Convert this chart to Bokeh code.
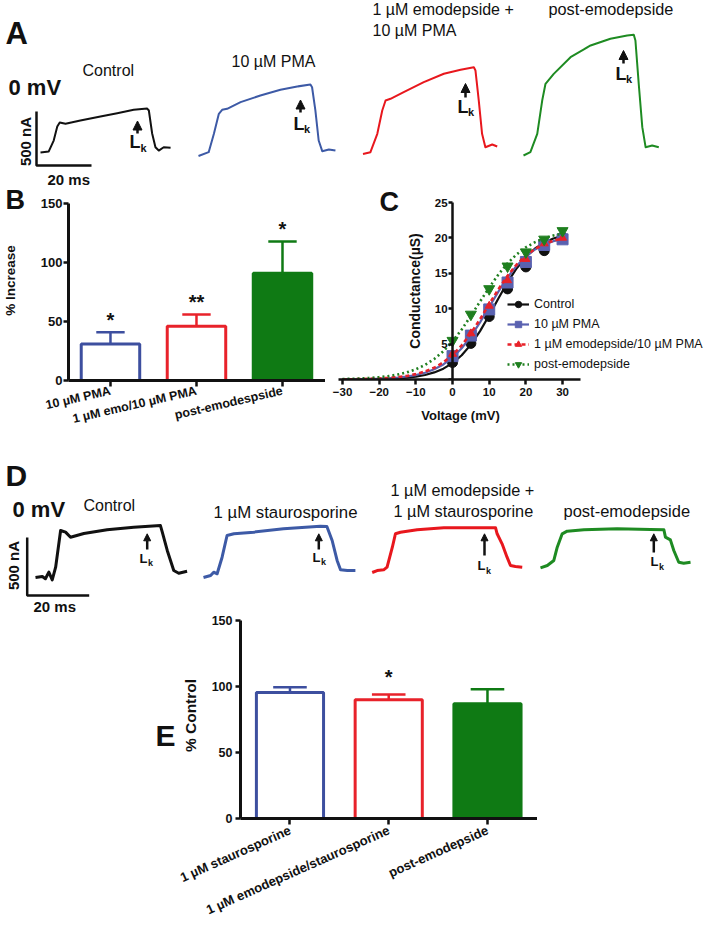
import math
from bokeh.plotting import figure
from bokeh.layouts import column
from bokeh.models import (Range1d, Label, Arrow, NormalHead, FixedTicker,
                          ColumnDataSource, Legend, LegendItem, Spacer)
from bokeh.core.properties import value
from bokeh.embed import file_html
from bokeh.resources import INLINE

FONT = "Liberation Sans"
BLACK = "#111111"
BLUE = "#3d4f9f"
RED = "#e8222a"
GREEN = "#0f7a14"
T_BLUE = "#3d5aa6"
T_RED = "#e8171d"
T_GREEN = "#1e8b22"
C_BLUE = "#5a62b0"
C_GREEN = "#1f7f1f"

# ---------------- data ----------------
scale_ms = 20
scale_na = 500

# Panel A traces (time in ms, current in nA relative to holding level)
a_ctrl_t = [0, 3, 4.8, 6.1, 7.0, 9.1, 14.5, 21.8, 27.9, 33.9, 38.8, 39.4, 40.6, 41.8, 43.0, 44.8, 47.3]
a_ctrl_i = [0, 10, 110, 240, 278, 266, 296, 333, 364, 395, 407, 389, 176, 49, 18, 49, 44]
a_pma_t = [0, 3.7, 5.6, 7.4, 8.6, 10.4, 15.3, 22.5, 29.8, 35.9, 40.7, 41.3, 42.5, 43.7, 45.0, 47.4, 49.8]
a_pma_i = [-5, 31, 201, 386, 423, 432, 494, 556, 608, 639, 657, 632, 417, 139, 40, 56, 46]
a_emo_t = [0, 2.7, 5.2, 7.0, 8.2, 10.0, 14.8, 22.1, 29.4, 35.5, 40.3, 40.9, 42.1, 43.3, 44.5, 47.0, 48.8]
a_emo_i = [0, 17, 187, 403, 495, 511, 572, 665, 743, 780, 804, 773, 495, 187, 63, 88, 69]
a_post_t = [0, 2.5, 5.0, 6.8, 8.0, 11.0, 17.1, 24.4, 31.6, 37.7, 40.1, 40.7, 41.9, 43.2, 44.4, 46.8, 49.2]
a_post_i = [0, 31, 201, 509, 664, 756, 910, 1019, 1081, 1111, 1118, 1065, 664, 262, 77, 93, 77]
a_titles = ["Control", "10 µM PMA", "1 µM emodepside +", "10 µM PMA", "post-emodepside"]

# Panel B
b_labels = ["10 µM PMA", "1 µM emo/10 µM PMA", "post-emodespside"]
b_values = [31, 46, 91]
b_errors = [10, 10, 27]
b_stars = ["*", "**", "*"]

# Panel C
c_voltage = [0, 5, 10, 15, 20, 25, 30]
c_control = [2.4, 5.1, 8.9, 12.8, 15.9, 18.2, 20.1]
c_pma = [3.3, 6.2, 9.9, 13.7, 16.6, 19.0, 19.8]
c_emo = [3.6, 6.5, 10.4, 14.0, 17.0, 19.2, 20.0]
c_post = [5.5, 9.2, 12.8, 16.0, 18.0, 19.8, 21.0]
c_fit_v = [-30, -27.5, -25, -22.5, -20, -17.5, -15, -12.5, -10, -7.5, -5, -2.5, 0,
           2.5, 5, 7.5, 10, 12.5, 15, 17.5, 20, 22.5, 25, 27.5, 30]
c_fit_control = [0.01, 0.02, 0.03, 0.04, 0.07, 0.11, 0.17, 0.26, 0.41, 0.64, 1.0, 1.53, 2.31,
                 3.42, 4.93, 6.84, 9.07, 11.45, 13.73, 15.72, 17.31, 18.5, 19.34, 19.91, 20.3]
c_fit_pma = [0.02, 0.03, 0.05, 0.08, 0.12, 0.18, 0.27, 0.42, 0.63, 0.96, 1.44, 2.13, 3.1,
             4.42, 6.09, 8.07, 10.25, 12.42, 14.41, 16.08, 17.4, 18.37, 19.06, 19.54, 19.87]
c_fit_emo = [0.03, 0.04, 0.06, 0.1, 0.15, 0.22, 0.34, 0.5, 0.76, 1.13, 1.66, 2.42, 3.46,
             4.83, 6.53, 8.52, 10.65, 12.74, 14.64, 16.25, 17.51, 18.45, 19.13, 19.61, 19.93]
c_fit_post = [0.07, 0.1, 0.15, 0.22, 0.33, 0.48, 0.7, 1.0, 1.45, 2.06, 2.89, 3.99, 5.39,
              7.07, 8.98, 11.01, 13.0, 14.83, 16.41, 17.68, 18.67, 19.41, 19.95, 20.33, 20.6]
c_names = ["Control", "10 µM PMA", "1 µM emodepside/10 µM PMA", "post-emodepside"]
c_ticks_x = [-30, -20, -10, 0, 10, 20, 30]
c_ticks_y = [0, 5, 10, 15, 20, 25]
c_xlabel = "Voltage (mV)"

# Panel D traces
d_ctrl_t = [0, 2.2, 3.2, 4.3, 5.4, 6.5, 8.1, 9.7, 11.3, 15.6, 23.1, 31.7, 40.3, 40.9, 42.5, 44.6, 46.2, 48.9]
d_ctrl_i = [0, 9, -11, 46, -20, 89, 405, 391, 347, 379, 411, 434, 448, 391, 233, 60, 37, 54]
d_stau_t = [0, 2.3, 3.3, 4.4, 6.0, 7.6, 9.8, 16.2, 25.8, 37.7, 39.8, 41.5, 43.1, 44.2, 46.4, 49.0]
d_stau_i = [0, 17, 46, 32, 175, 362, 377, 391, 420, 442, 440, 319, 147, 66, 60, 60]
d_emo_t = [0, 1.6, 3.7, 4.8, 6.5, 7.5, 9.1, 14.5, 23.1, 30.6, 39.8, 40.3, 41.9, 43.5, 44.6, 46.2, 48.4]
d_emo_i = [0, 17, 23, 46, 218, 334, 347, 368, 385, 385, 385, 334, 247, 132, 60, 52, 46]
d_post_t = [0, 2.2, 4.3, 5.4, 7.0, 8.6, 14.0, 24.7, 35.5, 39.8, 40.3, 41.9, 43.0, 44.6, 46.2, 48.4]
d_post_i = [0, 20, 63, 178, 293, 316, 328, 336, 330, 328, 264, 241, 149, 48, 40, 48]
d_titles = ["Control", "1 µM staurosporine", "1 µM emodepside +", "1 µM staurosporine", "post-emodepside"]

# Panel E
e_labels = ["1 µM staurosporine", "1 µM emodepside/staurosporine", "post-emodepside"]
e_values = [95.5, 90, 87]
e_errors = [4, 4, 11]
e_stars = ["", "*", ""]

# common side borders (a column aligns plot borders, so keep them equal)
LB = 100
BASE = 0.38  # shift (in em) that puts the alphabetic baseline where wanted


# ---------------- helpers ----------------
def place(p, x, y):
    # x, y: page position of the canvas' top-left corner
    p.margin = (int(y), 0, int(-y - p.height), int(x))


def clean(p):
    p.outline_line_color = None
    p.background_fill_color = None
    p.border_fill_color = None
    for g in p.grid:
        g.visible = False


def trace_fig(fl, fr, top, h, px_ms, px_na):
    p = figure(width=int(fr - fl) + LB, height=h,
               x_range=Range1d(fl / px_ms, fr / px_ms), y_range=Range1d(0, h / px_na),
               x_axis_type=None, y_axis_type=None, toolbar_location=None,
               output_backend="svg", min_border=0, min_border_left=LB,
               min_border_right=0, title=None)
    clean(p)
    place(p, fl - LB, top)
    return p


def put(p, x, y, text, size, bold=False, align="left", baseline="alphabetic", angle=0, ypx=1.0):
    if baseline == "alphabetic":
        y = y + BASE * size / ypx
    p.add_layout(Label(x=x, y=y, text=text, text_font=FONT, text_font_size=f"{size}px",
                       text_font_style="bold" if bold else "normal", text_align=align,
                       text_baseline=baseline, angle=angle, text_color=BLACK))


def arrow(p, x, y0, y1, head):
    p.add_layout(Arrow(end=NormalHead(size=head, fill_color=BLACK, line_color=BLACK, line_width=1),
                       x_start=x, y_start=y0, x_end=x, y_end=y1,
                       line_width=2.5, line_color=BLACK))


def style_axis(ax, tick_size, label_size, lw=3):
    ax.axis_line_width = lw
    ax.axis_line_color = BLACK
    ax.major_tick_line_width = 2.5
    ax.major_tick_line_color = BLACK
    ax.major_tick_in = 0
    ax.major_tick_out = 5
    ax.minor_tick_line_color = None
    ax.major_label_text_font = FONT
    ax.major_label_text_font_style = "bold"
    ax.major_label_text_font_size = tick_size
    ax.major_label_text_color = BLACK
    ax.axis_label_text_font = FONT
    ax.axis_label_text_font_style = "bold"
    ax.axis_label_text_font_size = label_size
    ax.axis_label_text_color = BLACK


# ---------------- Panel A (traces) ----------------
A_TOP, A_H, A_MS, A_NA, A_SPLIT = 0, 425, 2.75, 0.108, 185
figA1 = trace_fig(0, A_SPLIT, A_TOP, A_H, A_MS, A_NA)
figA2 = trace_fig(A_SPLIT, 700, A_TOP, A_H, A_MS, A_NA)


def ax_(X):
    return X / A_MS


def ay_(Y):
    return (A_TOP + A_H - Y) / A_NA


def pa(X):
    return figA1 if X < A_SPLIT else figA2


for t, i, (X0, Yb), col in [(a_ctrl_t, a_ctrl_i, (40, 152), BLACK),
                            (a_pma_t, a_pma_i, (198, 155), T_BLUE),
                            (a_emo_t, a_emo_i, (362.5, 153.5), T_RED),
                            (a_post_t, a_post_i, (523, 155), T_GREEN)]:
    pa(X0).line([ax_(X0) + v for v in t], [ay_(Yb) + v for v in i],
                line_color=col, line_width=2, line_join="round")

figA1.line([ax_(36), ax_(36), ax_(36) + scale_ms], [ay_(165) + scale_na, ay_(165), ay_(165)],
           line_color=BLACK, line_width=2.5)


def puta(X, Y, text, size, **kw):
    put(pa(X), ax_(X), ay_(Y), text, size, ypx=A_NA, **kw)


puta(5, 45, "A", 31, bold=True)
puta(8, 95, "0 mV", 22, bold=True)
puta(82, 76, a_titles[0], 16)
puta(231, 67, a_titles[1], 16)
puta(372, 15, a_titles[2], 16)
puta(372, 36, a_titles[3], 16)
puta(548, 15, a_titles[4], 16.3)
puta(25, 141, "500 nA", 15, bold=True, align="center", baseline="middle", angle=math.pi / 2)
puta(47, 185, "20 ms", 15, bold=True)
puta(5, 210, "B", 27, bold=True)
puta(379, 211.5, "C", 27, bold=True)
# title of panel C's voltage axis, centred under the drawn part of that axis
puta(460, 414.5, c_xlabel, 13, bold=True, align="center", baseline="middle")

for (x, y0, y1), (lx, ly), (kx, ky) in [((137, 133, 120.5), (129, 148), (140, 152)),
                                         ((300, 112, 99.5), (293, 130), (303.5, 133)),
                                         ((465, 97, 83), (457, 113.3), (467.5, 116)),
                                         ((623, 63, 50), (615, 80), (625.5, 83))]:
    arrow(pa(x), ax_(x), ay_(y0), ay_(y1), 9)
    puta(lx, ly, "L", 18, bold=True)
    puta(kx, ky, "k", 11, bold=True)

# ---------------- Panel B ----------------
B_FL, B_FW, B_PX = 68, 257, 1.178
figB = figure(width=B_FW + LB, height=275, x_range=Range1d(0.512, 3.5), y_range=Range1d(0, 200 / B_PX),
              toolbar_location=None, output_backend="svg", title=None,
              min_border_left=LB, min_border_right=0, min_border_top=5, min_border_bottom=70)
clean(figB)
place(figB, B_FL - LB, 175)
bx = [1, 2, 3]
b_src = ColumnDataSource(dict(
    x=bx, top=b_values, hi=[v + e for v, e in zip(b_values, b_errors)],
    cl=[x - 0.165 for x in bx], cr=[x + 0.165 for x in bx],
    star=b_stars, sy=[v + e + 4 + BASE * 20 / B_PX for v, e in zip(b_values, b_errors)],
    fill=["white", "white", GREEN], line=[BLUE, RED, GREEN]))
figB.segment(x0="x", y0="top", x1="x", y1="hi", line_color="line", line_width=2.5, source=b_src)
figB.segment(x0="cl", y0="hi", x1="cr", y1="hi", line_color="line", line_width=2.5, source=b_src)
figB.vbar(x="x", top="top", bottom=0, width=0.68, fill_color="fill", line_color="line",
          line_width=3, source=b_src)
figB.text(x="x", y="sy", text="star", text_font=value(FONT), text_font_size=value("20px"),
          text_font_style="bold", text_align="center", text_baseline="alphabetic",
          text_color=BLACK, source=b_src)
ya = figB.yaxis[0]
style_axis(ya, "13px", "13.5px")
ya.ticker = FixedTicker(ticks=[0, 50, 100, 150])
ya.bounds = (0, 150)
ya.axis_label = "% Increase"
ya.major_label_standoff = 1
ya.axis_label_standoff = 20
xa = figB.xaxis[0]
style_axis(xa, "12.5px", "12px")
xa.ticker = FixedTicker(ticks=bx)
xa.major_label_overrides = {k: v for k, v in zip(bx, b_labels)}
xa.major_label_orientation = 0.227
xa.major_label_standoff = 4
xa.major_tick_out = 6

# ---------------- Panel C ----------------
C_PXV, C_PXG = 3.667, 7.08
C_FL, C_FW, C_XMIN, C_XMAX = 338, 370, -31.1, 35
figC = figure(width=C_FW + LB, height=260, x_range=Range1d(C_XMIN, C_XMIN + C_FW / C_PXV),
              y_range=Range1d(0, 184 / C_PXG), toolbar_location=None, output_backend="svg",
              title=None, min_border_left=LB, min_border_right=0, min_border_top=20,
              min_border_bottom=56)
clean(figC)
place(figC, C_FL - LB, 175)
styles = [
    (c_fit_control, c_control, BLACK, None, "circle", 10),
    (c_fit_pma, c_pma, C_BLUE, None, "square", 11),
    (c_fit_emo, c_emo, RED, "4 3", "triangle", 8),
    (c_fit_post, c_post, C_GREEN, "2 3", "inverted_triangle", 11),
]
items = []
for name, (fit, pts, col, dash, mk, sz) in zip(c_names, styles):
    kw = dict(line_color=col, line_width=2.2)
    if dash:
        kw["line_dash"] = dash
        kw["line_width"] = 2.6
    lr = figC.line(c_fit_v, fit, **kw)
    sr = figC.scatter(c_voltage, pts, marker=mk, size=sz, fill_color=col, line_color=col)
    items.append(LegendItem(label=name, renderers=[lr, sr]))
leg = Legend(items=items, location=(169, 7), padding=0, margin=0, spacing=4,
             glyph_width=22, glyph_height=16, label_height=16, label_standoff=5,
             border_line_color=None, background_fill_alpha=0,
             label_text_font=FONT, label_text_font_size="12.5px", label_text_color=BLACK)
figC.add_layout(leg)
cy = figC.yaxis[0]
style_axis(cy, "11.5px", "14px", lw=2.5)
cy.ticker = FixedTicker(ticks=c_ticks_y)
cy.major_label_overrides = {0: ""}
cy.bounds = (0, 25)
cy.fixed_location = 0
cy.axis_label = "Conductance(µS)"
cy.major_label_standoff = 1
cy.major_tick_out = 4
cy.axis_label_standoff = 9
cx = figC.xaxis[0]
style_axis(cx, "11.5px", "13px", lw=2.5)
cx.ticker = FixedTicker(ticks=c_ticks_x)
cx.bounds = (C_XMIN, C_XMAX)
cx.major_label_standoff = 3

# ---------------- Panel D (traces) ----------------
D_TOP, D_H, D_MS, D_NA, D_SPLIT = 455, 300, 3.1, 0.116, 195
figD1 = trace_fig(0, D_SPLIT, D_TOP, D_H, D_MS, D_NA)
figD2 = trace_fig(D_SPLIT, 700, D_TOP, D_H, D_MS, D_NA)


def dx_(X):
    return X / D_MS


def dy_(Y):
    return (D_TOP + D_H - Y) / D_NA


def pd(X):
    return figD1 if X < D_SPLIT else figD2


for t, i, (X0, Yb), col in [(d_ctrl_t, d_ctrl_i, (35, 577), BLACK),
                            (d_stau_t, d_stau_i, (203, 577), T_BLUE),
                            (d_emo_t, d_emo_i, (371.7, 572), T_RED),
                            (d_post_t, d_post_i, (540, 567.3), T_GREEN)]:
    pd(X0).line([dx_(X0) + v for v in t], [dy_(Yb) + v for v in i],
                line_color=col, line_width=3, line_join="round")

figD1.line([dx_(26.7), dx_(26.7), dx_(26.7) + scale_ms], [dy_(595) + scale_na, dy_(595), dy_(595)],
           line_color=BLACK, line_width=2.5)


def putd(X, Y, text, size, **kw):
    put(pd(X), dx_(X), dy_(Y), text, size, ypx=D_NA, **kw)


putd(5, 486, "D", 30, bold=True)
putd(12, 517, "0 mV", 22, bold=True)
putd(83, 510.7, d_titles[0], 16)
putd(213, 518, d_titles[1], 16.8)
putd(390, 496, d_titles[2], 16.3)
putd(393, 517, d_titles[3], 16.3)
putd(563, 517, d_titles[4], 16.5)
putd(12.5, 565, "500 nA", 15, bold=True, align="center", baseline="middle", angle=math.pi / 2)
putd(33, 612, "20 ms", 15, bold=True)
putd(155, 746, "E", 30, bold=True)

for (x, y0, y1), (lx, ly), (kx, ky) in [((146.7, 549, 533.3), (139, 562.7), (147.5, 566)),
                                         ((318.3, 549, 533.3), (312, 561.7), (320.5, 565)),
                                         ((484, 555, 533.3), (477, 570), (485.5, 573.5)),
                                         ((653.3, 552, 533.3), (650, 566), (658.5, 569.5))]:
    arrow(pd(x), dx_(x), dy_(y0), dy_(y1), 7)
    putd(lx, ly, "L", 13, bold=True)
    putd(kx, ky, "k", 9, bold=True)

# ---------------- Panel E ----------------
E_FL, E_FW, E_PX = 240, 297, 1.32
figE = figure(width=E_FW + LB, height=334, x_range=Range1d(0.499, 0.499 + E_FW / 98.75),
              y_range=Range1d(0, 206 / E_PX), toolbar_location=None, output_backend="svg",
              title=None, min_border_left=LB, min_border_right=0, min_border_top=6,
              min_border_bottom=122)
clean(figE)
place(figE, E_FL - LB, 606)
ex = [1, 2, 3]
e_src = ColumnDataSource(dict(
    x=ex, top=e_values, hi=[v + e for v, e in zip(e_values, e_errors)],
    cl=[x - 0.17 for x in ex], cr=[x + 0.17 for x in ex],
    star=e_stars, sy=[v + e + 7.5 + BASE * 20 / E_PX for v, e in zip(e_values, e_errors)],
    fill=["white", "white", GREEN], line=[BLUE, RED, GREEN]))
figE.segment(x0="x", y0="top", x1="x", y1="hi", line_color="line", line_width=2.5, source=e_src)
figE.segment(x0="cl", y0="hi", x1="cr", y1="hi", line_color="line", line_width=2.5, source=e_src)
figE.vbar(x="x", top="top", bottom=0, width=0.68, fill_color="fill", line_color="line",
          line_width=3, source=e_src)
figE.text(x="x", y="sy", text="star", text_font=value(FONT), text_font_size=value("20px"),
          text_font_style="bold", text_align="center", text_baseline="alphabetic",
          text_color=BLACK, source=e_src)
ey = figE.yaxis[0]
style_axis(ey, "12.5px", "15.5px")
ey.ticker = FixedTicker(ticks=[0, 50, 100, 150])
ey.bounds = (0, 150)
ey.axis_label = "% Control"
ey.major_label_standoff = 3
ey.axis_label_standoff = 10
exa = figE.xaxis[0]
style_axis(exa, "13px", "12px")
exa.ticker = FixedTicker(ticks=ex)
exa.major_label_overrides = {k: v for k, v in zip(ex, e_labels)}
exa.major_label_orientation = 0.419
exa.major_label_standoff = 5
exa.major_tick_out = 6

layout = column(figA1, figA2, figB, figC, figD1, figD2, figE, Spacer(width=700, height=900))
open("out.html", "w").write(file_html(layout, INLINE))
